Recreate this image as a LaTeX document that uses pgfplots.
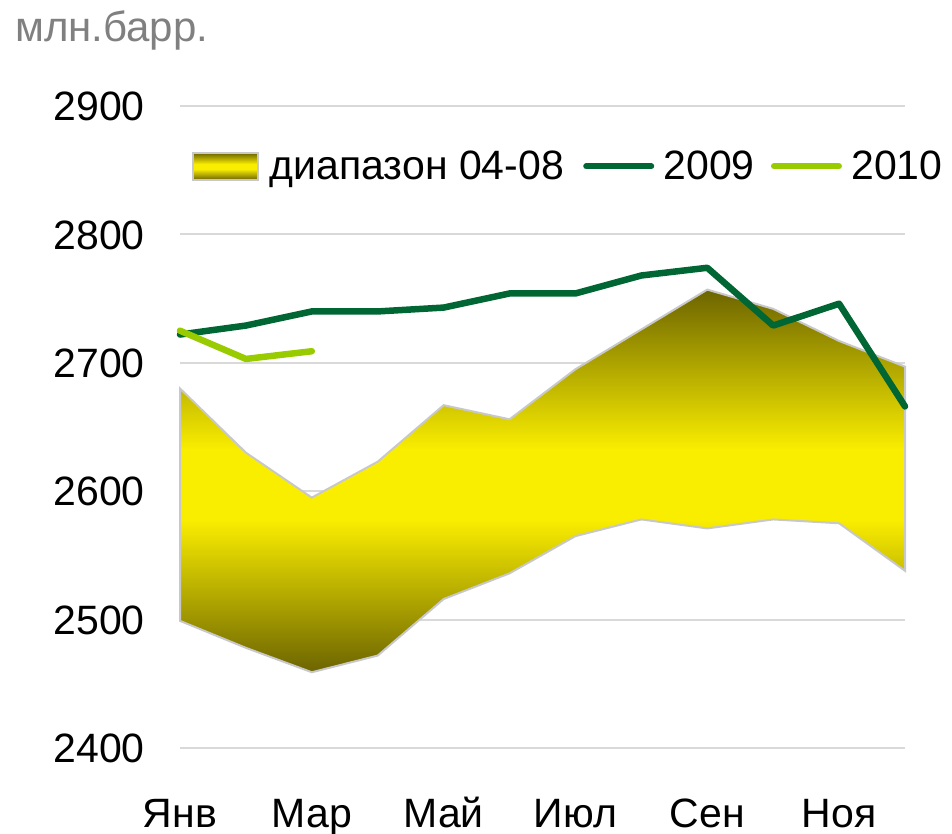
\documentclass[border=0pt]{standalone}
\usepackage{fontspec}
\setmainfont{Liberation Sans}
\usepackage{pgfplots}
\pgfplotsset{compat=1.18}
\definecolor{banddark}{RGB}{108,100,0}
\definecolor{bandyellow}{RGB}{250,238,0}
\definecolor{cnine}{RGB}{0,102,51}
\definecolor{cten}{RGB}{153,204,0}
\definecolor{gridc}{RGB}{217,217,217}
\definecolor{bandedge}{RGB}{200,200,200}
\definecolor{unitgray}{RGB}{128,128,128}
\pgfdeclareverticalshading{bandshade}{100bp}{color(0bp)=(banddark); color(25bp)=(banddark); color(45bp)=(bandyellow); color(54bp)=(bandyellow); color(75bp)=(banddark); color(100bp)=(banddark)}
\newcommand\bigf{\fontsize{41}{49}\selectfont}
\begin{document}
\begin{tikzpicture}
\path[use as bounding box] (0,0) rectangle (952pt,834pt);
\begin{axis}[
  at={(180pt,86pt)}, anchor=south west, scale only axis,
  width=725pt, height=642pt,
  xmin=0, xmax=11, ymin=2400, ymax=2900,
  ytick={2400,2500,...,2900},
  xtick={0,2,4,6,8,10},
  xticklabels={Янв,Мар,Май,Июл,Сен,Ноя},
  axis line style={draw=none}, tick style={draw=none}, major tick length=0pt,
  ymajorgrids, major grid style={gridc, line width=2pt},
  /pgf/number format/assume math mode=true,
  /pgf/number format/set thousands separator={},
  ticklabel style={font=\bigf, inner sep=0pt, text height=29.4pt, text depth=0pt},
  yticklabel style={xshift=-35pt},
  xticklabel style={yshift=-50pt},
  clip=false,
  legend columns=3,
  legend style={at={(axis description cs:0.0166,0.906)}, anchor=west,
    draw=none, fill=none, inner sep=0pt, outer sep=0pt,
    nodes={inner sep=0pt, font=\bigf}, column sep=0pt},
]
\addplot[shade, shading=bandshade, draw=bandedge, line width=2pt,
  legend image code/.code={\path[shade, shading=bandshade, draw=bandedge, line width=1.5pt] (0pt,-13.5pt) rectangle (65pt,13.5pt); \path (76pt,0pt);}]
  coordinates {
  (0,2680) (1,2630) (2,2595) (3,2623) (4,2667) (5,2656)
  (6,2695) (7,2726) (8,2757) (9,2742) (10,2717) (11,2697)
  (11,2538) (10,2575) (9,2578) (8,2571) (7,2578) (6,2565)
  (5,2536) (4,2516) (3,2472) (2,2459) (1,2478) (0,2499)
  (0,2680)} -- cycle;
\addlegendentry{диапазон 04-08}
\addplot[cnine, line width=6.5pt, line cap=round, line join=round,
  legend image code/.code={\path (0pt,0pt); \draw[cnine, line width=6pt, line cap=round] (19pt,0pt) -- (84pt,0pt); \path (93pt,0pt);}]
  coordinates {
  (0,2722) (1,2729) (2,2740) (3,2740) (4,2743) (5,2754)
  (6,2754) (7,2768) (8,2774) (9,2729) (10,2746) (11,2666)};
\addlegendentry{2009}
\addplot[cten, line width=6.5pt, line cap=round, line join=round,
  legend image code/.code={\path (0pt,0pt); \draw[cten, line width=6pt, line cap=round] (16pt,0pt) -- (81pt,0pt); \path (90pt,0pt);}]
  coordinates {(0,2725) (1,2703) (2,2709)};
\addlegendentry{2010}
\end{axis}
\node[anchor=base west, font=\fontsize{42}{50}\selectfont, text=unitgray, inner sep=0pt] at (15pt,792pt) {млн.барр.};
\end{tikzpicture}
\end{document}
